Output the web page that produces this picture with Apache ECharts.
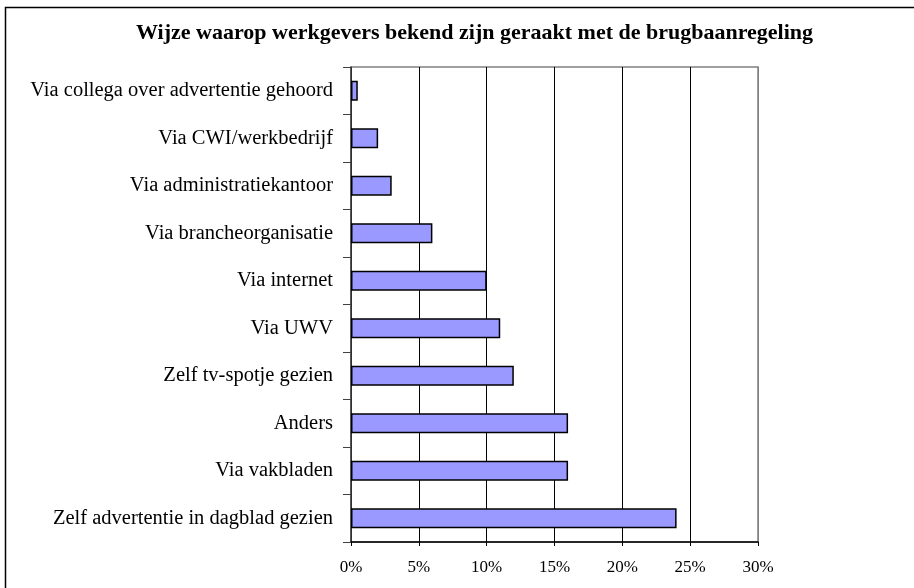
<!DOCTYPE html>
<html>
<head>
<meta charset="utf-8">
<script src="https://cdn.jsdelivr.net/npm/echarts@6/dist/echarts.min.js"></script>
<style>
  html, body { margin: 0; padding: 0; background: #fff; }
  #chart { width: 914px; height: 588px; }
</style>
</head>
<body>
<div id="chart"></div>
<script>
  // categories, top to bottom as in the picture
  let categories = [
    'Via collega over advertentie gehoord',
    'Via CWI/werkbedrijf',
    'Via administratiekantoor',
    'Via brancheorganisatie',
    'Via internet',
    'Via UWV',
    'Zelf tv-spotje gezien',
    'Anders',
    'Via vakbladen',
    'Zelf advertentie in dagblad gezien'
  ];
  // percentages
  let values = [0.5, 2, 3, 6, 10, 11, 12, 16, 16, 24];

  let myChart = echarts.init(document.getElementById('chart'));
  let serif = "'Liberation Serif', 'Times New Roman', serif";

  let option = {
    backgroundColor: '#fff',
    animation: false,
    title: {
      text: 'Wijze waarop werkgevers bekend zijn geraakt met de brugbaanregeling',
      left: 131,
      top: 17,
      textStyle: {
        fontFamily: serif,
        fontSize: 22,
        fontWeight: 'bold',
        color: '#000'
      }
    },
    // outer frame (only top and left edges visible)
    graphic: [{
      type: 'rect',
      shape: { x: 5.5, y: 7.5, width: 1000, height: 1000 },
      style: { fill: 'none', stroke: '#000', lineWidth: 1.5 },
      silent: true
    }],
    grid: {
      left: 351,
      right: 156,
      top: 67,
      bottom: 46,
      show: true,
      borderColor: '#808080',
      borderWidth: 1.5
    },
    xAxis: {
      type: 'value',
      min: 0,
      max: 30,
      interval: 5,
      axisLine: { show: true, lineStyle: { color: '#000', width: 1.5 } },
      axisTick: { show: true, inside: false, length: 4, lineStyle: { color: '#000' } },
      axisLabel: {
        formatter: '{value}%',
        fontFamily: serif,
        fontSize: 17,
        color: '#000',
        margin: 17
      },
      splitLine: {
        show: true,
        lineStyle: {
          color: ['#000', '#000', '#000', '#000', '#000', '#000', '#808080'],
          width: 1
        }
      }
    },
    yAxis: {
      type: 'category',
      inverse: true,
      data: categories,
      axisLine: { show: true, lineStyle: { color: '#404040', width: 1.5 } },
      axisTick: { show: true, inside: false, length: 8, alignWithLabel: false, lineStyle: { color: '#404040' } },
      axisLabel: {
        fontFamily: serif,
        fontSize: 20.5,
        color: '#000',
        margin: 18
      }
    },
    series: [{
      type: 'bar',
      data: values,
      barWidth: 20,
      itemStyle: {
        color: '#9999ff',
        borderColor: '#000',
        borderWidth: 1.5
      }
    }]
  };
  myChart.setOption(option);
</script>
</body>
</html>
